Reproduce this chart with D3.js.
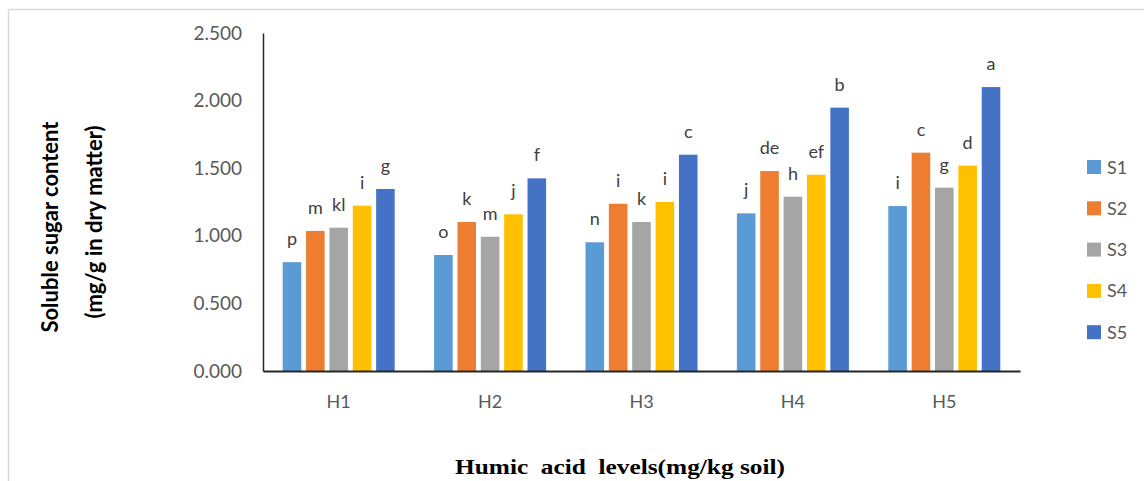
<!DOCTYPE html>
<html>
<head>
<meta charset="utf-8">
<script src="https://cdn.jsdelivr.net/npm/d3@7"></script>
<style>
  body { margin: 0; background: #fff; }
  svg { display: block; }
</style>
</head>
<body>
<div id="chart"></div>
<script>
// humic acid levels (x groups) and the 5 series
var categories = ["H1", "H2", "H3", "H4", "H5"];
var seriesNames = ["S1", "S2", "S3", "S4", "S5"];

// values per series, one per humic level
var S1 = [0.805, 0.858, 0.952, 1.166, 1.220];
var S2 = [1.036, 1.102, 1.237, 1.479, 1.615];
var S3 = [1.060, 0.993, 1.102, 1.289, 1.356];
var S4 = [1.223, 1.159, 1.250, 1.452, 1.519];
var S5 = [1.346, 1.425, 1.600, 1.948, 2.100];

// significance letters above bars
var L1 = ["p", "o", "n", "j", "i"];
var L2 = ["m", "k", "i", "de", "c"];
var L3 = ["kl", "m", "k", "h", "g"];
var L4 = ["i", "j", "i", "ef", "d"];
var L5 = ["g", "f", "c", "b", "a"];

var yTicks = [0, 0.5, 1, 1.5, 2, 2.5];
var colors = ["#5B9BD5", "#ED7D31", "#A5A5A5", "#FFC000", "#4472C4"];

var values = [S1, S2, S3, S4, S5];
var letters = [L1, L2, L3, L4, L5];

var W = 1144, H = 481;
var margin = { top: 33, left: 263, bottom: 110, right: 124 };
var width = W - margin.left - margin.right;
var height = H - margin.top - margin.bottom;

var svg = d3.select("#chart")
  .append("svg")
  .attr("width", W)
  .attr("height", H);

// light frame of the chart area (top and left edges only visible)
svg.append("line")
  .attr("x1", 8.5).attr("x2", W).attr("y1", 9.5).attr("y2", 9.5)
  .style("stroke", "#d9d9d9").style("stroke-width", 1.5);
svg.append("line")
  .attr("x1", 8.5).attr("x2", 8.5).attr("y1", 9.5).attr("y2", H)
  .style("stroke", "#d9d9d9").style("stroke-width", 1.5);

var g = svg.append("g")
  .attr("transform", "translate(" + margin.left + "," + margin.top + ")");

var x0 = d3.scaleBand().domain(categories).range([0, width]).padding(0);
var x1 = d3.scaleBand().domain(seriesNames)
  .range([0, 112])
  .paddingInner(0.205)
  .paddingOuter(0);
var groupOffset = (x0.bandwidth() - 112) / 2;

var y = d3.scaleLinear().domain([0, 2.5]).range([height, 0]);

// bars
var rows = [];
categories.forEach(function (c, i) {
  seriesNames.forEach(function (s, j) {
    rows.push({ cat: c, ser: s, v: values[j][i], lab: letters[j][i], k: j });
  });
});

g.append("g")
  .selectAll("rect")
  .data(rows)
  .enter()
  .append("rect")
  .attr("x", function (d) { return x0(d.cat) + groupOffset + x1(d.ser) })
  .attr("y", function (d) { return y(d.v) })
  .attr("width", x1.bandwidth())
  .attr("height", function (d) { return height - y(d.v) })
  .style("fill", function (d) { return colors[d.k] });

// letters
g.append("g")
  .selectAll("text")
  .data(rows)
  .enter()
  .append("text")
  .attr("x", function (d) { return x0(d.cat) + groupOffset + x1(d.ser) + x1.bandwidth() / 2 })
  .attr("y", function (d) { return y(d.v) - 17 })
  .attr("text-anchor", "middle")
  .style("font-family", "Lato, sans-serif")
  .style("font-size", "18px")
  .style("fill", "#404040")
  .text(function (d) { return d.lab });

// y axis
var yAxis = d3.axisLeft(y)
  .tickValues(yTicks)
  .tickSize(0)
  .tickPadding(21)
  .tickFormat(d3.format(".3f"));

var ya = g.append("g").call(yAxis);
ya.select(".domain").style("stroke", "#262626").style("stroke-width", 1.5);
ya.selectAll("text")
  .style("font-family", "Lato, sans-serif")
  .style("font-size", "19px")
  .style("fill", "#595959");

// x axis
var xAxis = d3.axisBottom(x0).tickSize(0).tickPadding(24);
var xa = g.append("g")
  .attr("transform", "translate(0," + height + ")")
  .call(xAxis);
xa.select(".domain").style("stroke", "#262626").style("stroke-width", 2);
xa.selectAll("text")
  .style("font-family", "Lato, sans-serif")
  .style("font-size", "18px")
  .style("fill", "#595959");

// axis titles
svg.append("text")
  .attr("transform", "translate(58,227) rotate(-90)")
  .attr("text-anchor", "middle")
  .style("font-family", "Lato, sans-serif")
  .style("font-weight", "bold")
  .style("font-size", "22px")
  .style("fill", "#000")
  .text("Soluble sugar content");

svg.append("text")
  .attr("transform", "translate(102,222) rotate(-90)")
  .attr("text-anchor", "middle")
  .style("font-family", "Lato, sans-serif")
  .style("font-weight", "bold")
  .style("font-size", "22px")
  .style("fill", "#000")
  .text("(mg/g in dry matter)");

svg.append("text")
  .attr("x", 620)
  .attr("y", 474)
  .attr("text-anchor", "middle")
  .attr("textLength", 330)
  .attr("lengthAdjust", "spacingAndGlyphs")
  .style("font-family", "'Liberation Serif', 'Times New Roman', serif")
  .style("font-weight", "bold")
  .style("font-size", "21px")
  .style("fill", "#000")
  .style("white-space", "pre")
  .text("Humic  acid  levels(mg/kg soil)");

// legend
var legend = svg.append("g")
  .selectAll("g")
  .data(seriesNames)
  .enter()
  .append("g")
  .attr("transform", function (d, i) { return "translate(1087," + (167 + i * 41.3) + ")" });

legend.append("rect")
  .attr("x", 0).attr("y", -7)
  .attr("width", 14).attr("height", 14)
  .style("fill", function (d, i) { return colors[i] });

legend.append("text")
  .attr("x", 20)
  .attr("y", 6.5)
  .style("font-family", "Lato, sans-serif")
  .style("font-size", "18px")
  .style("fill", "#595959")
  .text(function (d) { return d });
</script>
</body>
</html>
